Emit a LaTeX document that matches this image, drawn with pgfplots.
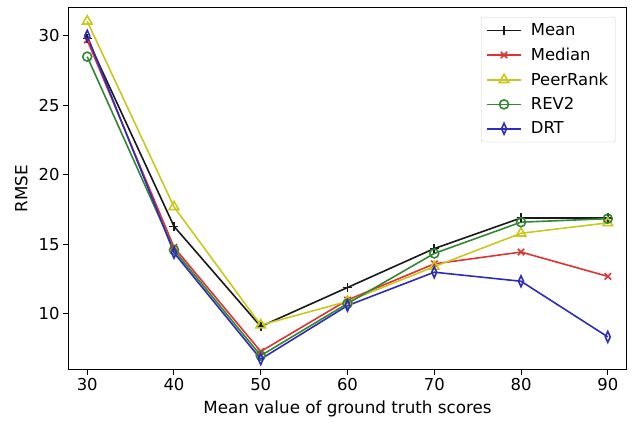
\documentclass[border=0pt]{standalone}
\usepackage{pgfplots}
\pgfplotsset{compat=1.18}
\usepackage{fontspec}
\setmainfont{DejaVu Sans}
\definecolor{cK}{RGB}{25,25,25}
\definecolor{cR}{RGB}{225,50,50}
\definecolor{cY}{RGB}{200,200,30}
\definecolor{cG}{RGB}{50,135,50}
\definecolor{cB}{RGB}{45,45,185}
\begin{document}
\begin{tikzpicture}
\begin{axis}[
    name=ax,
    scale only axis,
    width=557bp, height=361bp,
    xmin=27.9, xmax=92.1,
    ymin=6.04, ymax=32.0,
    xtick={30,40,50,60,70,80,90},
    ytick={10,15,20,25,30},
    tick align=outside,
    xtick pos=left, ytick pos=left,
    major tick length=6bp,
    tick style={black, line width=1bp},
    axis line style={line width=1bp},
    /pgf/number format/assume math mode=true,
    ticklabel style={font=\fontsize{16.5}{19}\selectfont},
    label style={font=\fontsize{16.8}{20}\selectfont},
    xlabel={Mean value of ground truth scores},
    ylabel={RMSE},
    xlabel style={yshift=-3bp},
    ylabel style={yshift=4bp},
    every axis plot/.append style={line width=1.6bp, mark size=4.5bp},
    legend cell align=left,
    legend style={font=\fontsize{16.5}{19}\selectfont, draw=black!20, rounded corners=2bp,
        at={(0.981,0.975)}, anchor=north east, inner xsep=5bp, inner ysep=4.5bp, row sep=6.8bp,
        /tikz/every odd column/.append style={column sep=7bp}},
    legend image code/.code={
        \draw[mark repeat=2, mark phase=2, line width=1.6bp]
            plot coordinates {(0cm,0cm) (0.6cm,0cm) (1.2cm,0cm)};
    },
]
\addplot[cK, mark=+] coordinates {(30,29.8) (40,16.3) (50,9.1) (60,11.9) (70,14.7) (80,16.9) (90,16.9)};
\addlegendentry{Mean}
\addplot[cR, mark=x] coordinates {(30,29.7) (40,14.8) (50,7.3) (60,11.0) (70,13.6) (80,14.45) (90,12.7)};
\addlegendentry{Median}
\addplot[cY, mark=triangle, mark size=5.5bp] coordinates {(30,31.05) (40,17.7) (50,9.2) (60,10.9) (70,13.4) (80,15.8) (90,16.55)};
\addlegendentry{PeerRank}
\addplot[cG, mark=o] coordinates {(30,28.5) (40,14.6) (50,7.0) (60,10.75) (70,14.35) (80,16.6) (90,16.85)};
\addlegendentry{REV2}
\addplot[cB, mark=diamond, mark size=5.5bp, mark options={xscale=0.6}] coordinates {(30,30.0) (40,14.4) (50,6.75) (60,10.6) (70,13.0) (80,12.35) (90,8.35)};
\addlegendentry{DRT}
\end{axis}
\path (ax.south west) ++(-69bp,-54bp) rectangle ([shift={(9bp,8bp)}]ax.north east);
\end{tikzpicture}
\end{document}
